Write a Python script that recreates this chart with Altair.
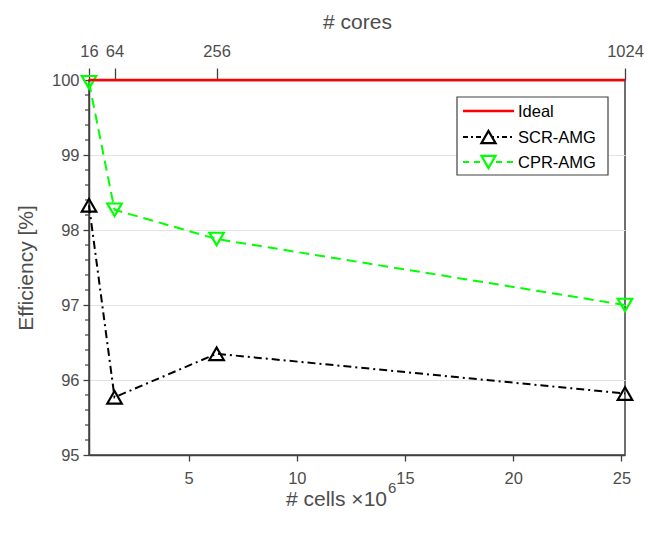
import altair as alt
import pandas as pd

# ---- data ----
cores = [16, 64, 256, 1024]
cells = [0.393216, 1.572864, 6.291456, 25.165824]  # x 10^6
scr_amg = [98.33, 95.77, 96.35, 95.82]
cpr_amg = [99.97, 98.27, 97.88, 97.00]
ideal = [100, 100, 100, 100]
y_major = [95, 96, 97, 98, 99, 100]
y_minor = [95.2, 95.4, 95.6, 95.8, 96.2, 96.4, 96.6, 96.8, 97.2, 97.4, 97.6, 97.8,
           98.2, 98.4, 98.6, 98.8, 99.2, 99.4, 99.6, 99.8]
x_ticks = [5, 10, 15, 20, 25]

FONT = "Liberation Sans"
AX = "#404040"
TXT = "#4d4d4d"
XDOM = [cells[0], cells[-1]]
YDOM = [95, 100]

df = pd.DataFrame({"cells": cells, "cores": cores, "scr": scr_amg, "cpr": cpr_amg, "ideal": ideal})
minor_df = pd.DataFrame({"y": y_minor})

label_expr = " : ".join(
    f"abs(datum.value - {c}) < 0.01 ? '{k}'" for c, k in zip(cells, cores)
) + " : ''"

common_axis = dict(domainColor=AX, tickColor=AX, labelColor=TXT, titleColor=TXT,
                   labelFont=FONT, titleFont=FONT, labelFontSize=16.5, titleFontSize=21,
                   titleFontWeight="normal", domainWidth=1.5, tickWidth=1.3,
                   labelFlush=False, labelOverlap=False)

xs_bottom = alt.Scale(domain=XDOM, nice=False, zero=False)
ys = alt.Scale(domain=YDOM, nice=False, zero=False)

x_bottom = alt.X(
    "cells:Q", scale=xs_bottom,
    axis=alt.Axis(orient="bottom", values=x_ticks, format="d", title=None, grid=False,
                  tickSize=6, labelPadding=9, **common_axis),
)
y_enc_axis = alt.Axis(values=y_major, format="d", title="Efficiency [%]", grid=True,
                      gridColor="#e3e3e3", gridWidth=1.2,
                      tickSize=6, labelPadding=4, titlePadding=15, **common_axis)

scr_line = alt.Chart(df).mark_line(color="black", strokeWidth=2, strokeDash=[8, 4, 2, 4]).encode(
    x=x_bottom, y=alt.Y("scr:Q", scale=ys, axis=y_enc_axis))
scr_pts = alt.Chart(df).mark_point(shape="triangle-up", color="black", strokeWidth=2.2,
                                   size=210, filled=False, opacity=1).encode(
    x="cells:Q", y="scr:Q")
cpr_line = alt.Chart(df).mark_line(color="#00ff00", strokeWidth=2, strokeDash=[10, 6]).encode(
    x="cells:Q", y="cpr:Q")
cpr_pts = alt.Chart(df).mark_point(shape="triangle-down", color="#00ff00", strokeWidth=2.2,
                                   size=210, filled=False, opacity=1).encode(
    x="cells:Q", y="cpr:Q")
minor = alt.Chart(minor_df).mark_rule(color=AX, strokeWidth=1.2).encode(
    y=alt.Y("y:Q", scale=ys), x=alt.value(-4), x2=alt.value(0))

bottom = alt.layer(minor, scr_line, cpr_line, scr_pts, cpr_pts)

ideal_line = alt.Chart(df).mark_line(color="#ff0000", strokeWidth=2.6).encode(
    x=alt.X("cells:Q", scale=alt.Scale(domain=XDOM, nice=False, zero=False),
            axis=alt.Axis(orient="top", values=cells, labelExpr=label_expr, title="# cores",
                          grid=False, tickSize=12, labelPadding=9, titlePadding=11, **common_axis)),
    y=alt.Y("ideal:Q", scale=ys))

# ---- x title with superscript ----
title_df = pd.DataFrame({"t": ["# cells ×10"], "s": ["6"]})
xtitle = alt.Chart(title_df).mark_text(align="right", baseline="middle", font=FONT, fontSize=21,
                                        color=TXT).encode(
    x=alt.value(298), y=alt.value(420), text="t:N")
xsup = alt.Chart(title_df).mark_text(align="left", baseline="middle", font=FONT, fontSize=15,
                                      color=TXT).encode(
    x=alt.value(299), y=alt.value(408), text="s:N")

# ---- legend (manual) ----
LX0, LX1, LY0, LY1 = 368, 519, 17, 95
rows = [("Ideal", "#ff0000", None, None, 31),
        ("SCR-AMG", "black", [5, 3, 2, 3], "triangle-up", 57),
        ("CPR-AMG", "#00ff00", [6, 5], "triangle-down", 82)]
leg_df = pd.DataFrame({"name": [r[0] for r in rows]})
legend_layers = [
    alt.Chart(leg_df.head(1)).mark_rect(fill="white", stroke=AX, strokeWidth=1.2).encode(
        x=alt.value(LX0), x2=alt.value(LX1), y=alt.value(LY0), y2=alt.value(LY1))
]
for name, col, dash, shape, yy in rows:
    d = leg_df[leg_df["name"] == name]
    rule_kw = dict(color=col, strokeWidth=2.4 if dash is None else 2)
    if dash is not None:
        rule_kw["strokeDash"] = dash
    legend_layers.append(alt.Chart(d).mark_rule(**rule_kw).encode(
        x=alt.value(374), x2=alt.value(425), y=alt.value(yy)))
    if shape is not None:
        legend_layers.append(alt.Chart(d).mark_point(shape=shape, filled=False, fill="white",
                                                     fillOpacity=1, stroke=col, strokeOpacity=1,
                                                     strokeWidth=2.2, size=200, opacity=1).encode(
            x=alt.value(399.5), y=alt.value(yy)))
    legend_layers.append(alt.Chart(d).mark_text(align="left", baseline="middle", font=FONT,
                                                fontSize=16.5, color="black").encode(
        x=alt.value(429), y=alt.value(yy + 1), text="name:N"))

chart = alt.layer(bottom, ideal_line, xtitle, xsup, *legend_layers).resolve_scale(
    x="independent").properties(
    width=536, height=375,
    background="white",
    autosize=alt.AutoSizeParams(type="none"),
    padding={"left": 81, "top": 72, "right": 29, "bottom": 71},
).configure_view(stroke=AX, strokeWidth=1.5)

chart.save("out.html", embed_options={"renderer": "svg", "actions": False})
